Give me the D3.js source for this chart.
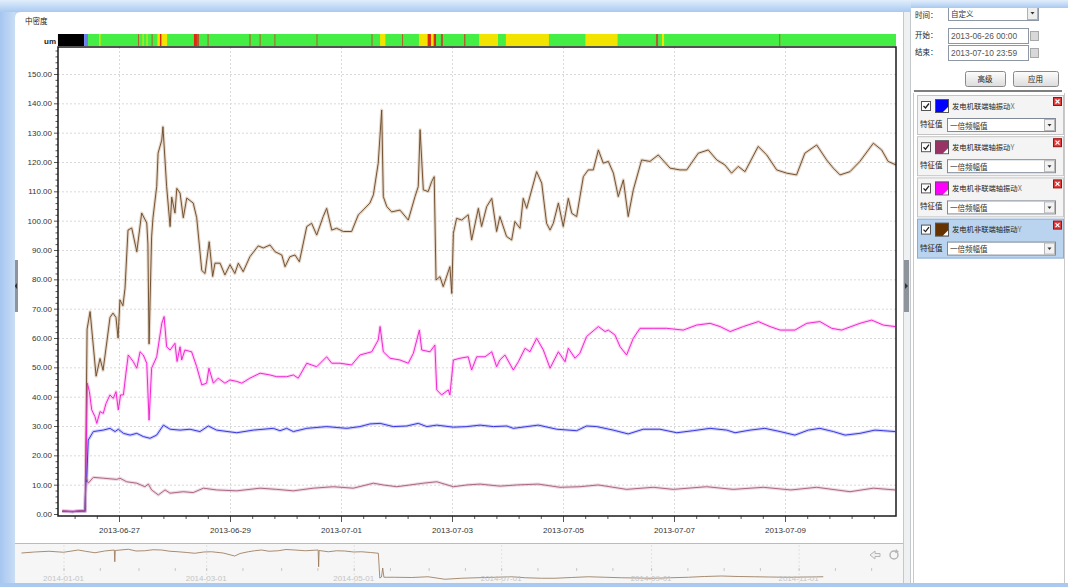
<!DOCTYPE html>
<html><head><meta charset="utf-8">
<script src="https://cdn.jsdelivr.net/npm/d3@7"></script>
<style>body{margin:0;overflow:hidden;background:#fff}svg{display:block}</style>
</head><body><svg id="c" width="1068" height="587"></svg>
<script>
// ---------------- DATA ----------------
// hours from 2013-06-26 00:00, value (um)
const seriesNames = ["发电机联端轴振动X","发电机联端轴振动Y","发电机非联端轴振动X","发电机非联端轴振动Y"];
const featureLabel = "一倍频幅值";
const xTickLabels = ["2013-06-27","2013-06-29","2013-07-01","2013-07-03","2013-07-05","2013-07-07","2013-07-09"];
const yTickValues = [0,10,20,30,40,50,60,70,80,90,100,110,120,130,140,150];
const overviewTickLabels = ["2014-01-01","2014-03-01","2014-05-01","2014-07-01","2014-09-01","2014-11-01"];

const blueX = [[-0.5,0.9],[4,0.8],[8,1.0],[9.3,0.9],[9.7,12.5],[10.0,11],[10.7,25.2],[12.9,28.1],[17.2,28.6],[20.1,29.2],[22.3,28.1],[23.7,28.9],[25.9,27.5],[28.8,26.9],[31.7,27.5],[34.5,26.4],[37.4,25.8],[40.3,26.9],[43.2,30.3],[46.1,28.9],[50.4,28.6],[54.7,28.9],[59.0,28.1],[62.6,30],[66.2,28.6],[74.9,27.7],[82.1,28.6],[90.7,29.2],[93.6,28.4],[96.5,29.2],[99.4,28.1],[105.2,29.2],[113.8,29.8],[122.5,29.2],[128.2,29.8],[132.5,30.7],[136.9,30.9],[142.6,29.8],[148.4,30],[153.4,30.9],[157.1,29.8],[161.4,30.3],[168.6,29.6],[174.4,29.8],[180.1,30.3],[185.9,29.8],[191.7,30],[194.5,29.2],[205.3,30.3],[213.3,28.9],[221.9,28.4],[226.2,30],[230.6,29.8],[237.7,28.6],[244.2,27.3],[250.7,28.9],[257.9,28.9],[265.2,27.7],[272.3,28.4],[279.6,29.2],[286.8,28.6],[290.4,27.7],[296.9,28.6],[303.3,29.2],[309.9,28.1],[316.3,26.9],[322.1,28.6],[327.1,29.2],[332.9,28.1],[338.0,26.9],[344.4,27.5],[350.9,28.6],[354.5,28.4],[359.6,28.1]];

const mauveY = [[-0.5,1.0],[4,0.8],[8,1.1],[9.3,0.9],[9.7,12.7],[10.7,10.5],[12.9,12.5],[17.2,12.2],[23.0,11.8],[24.4,12.2],[27.3,11],[31.7,10.5],[35.2,9.3],[36.7,10.2],[38.1,8.2],[41.0,6.5],[43.9,8.2],[46.1,7.1],[51.8,7.6],[56.1,7.3],[60.5,8.8],[66.2,8.2],[74.9,7.9],[85.0,8.8],[92.2,8.4],[99.4,7.9],[108.0,8.8],[116.7,9.3],[125.3,8.8],[134.0,10.5],[138.3,9.9],[144.1,9.3],[149.8,9.9],[155.6,10.5],[161.4,11],[168.6,9.3],[174.4,9.9],[180.1,10.2],[188.7,9.5],[196.0,9.9],[205.3,10.2],[214.7,9.1],[223.3,9.3],[231.3,9.9],[243.5,8.4],[255.0,9.1],[263.7,8.4],[278.1,9.3],[289.6,8.4],[302.6,9.1],[314.6,8.2],[325.7,9.1],[340.1,7.6],[350.2,8.8],[359.6,8.2]];

const magentaX = [[-0.5,1.0],[4,0.9],[8,1.1],[9.4,1.0],[10.3,44.6],[11.2,41.7],[12.2,35.5],[13.6,33.2],[14.4,30.9],[15.8,34.9],[17.2,34.3],[18.4,37.7],[20.1,40.6],[21.5,39.4],[22.7,41.7],[23.7,35.5],[24.7,40.6],[25.9,40.6],[27.0,48],[28.0,54.2],[30.2,51.9],[31.7,49.7],[33.1,55.3],[34.5,54.2],[36.0,51.4],[37.0,32],[38.1,49.7],[40.3,53.6],[42.5,65],[43.5,67.3],[44.6,57],[46.1,55.9],[48.2,58.2],[49.1,52],[50.4,57],[51.1,52.5],[52.5,55.9],[55.4,55.3],[57.6,50.2],[59.8,44],[61.9,44.6],[62.9,49.7],[64.8,44.6],[66.9,46.3],[69.8,44.6],[72.0,45.7],[74.9,45.2],[77.1,44.6],[80.6,46.3],[85.0,48],[89.3,47.4],[92.2,46.8],[96.5,46.8],[99.4,47.4],[101.5,46.3],[105.2,51.4],[109.5,50.2],[113.8,53.6],[116.0,51.4],[119.6,51.4],[124.6,50.8],[128.2,54.2],[133.3,55.3],[136.1,59.3],[136.9,63.9],[138.3,55.3],[141.2,53.1],[145.5,52.5],[149.1,51.4],[151.3,54.8],[153.9,62.7],[154.9,55.9],[158.5,55.3],[160.6,57.6],[161.4,42.3],[163.5,40.6],[166.4,42.3],[167.1,40.6],[168.6,52.5],[171.5,53.1],[175.0,53.6],[176.5,49.1],[178.7,53.6],[182.3,53.6],[185.2,55.3],[187.3,50.2],[188.7,52.5],[190.9,54.2],[194.5,49.1],[196.7,51.9],[199.6,56.5],[201.7,55.3],[204.6,59.9],[207.5,55.9],[210.4,49.7],[214.0,55.3],[216.9,51.9],[218.3,56.5],[221.2,53.1],[223.3,54.8],[226.2,60.5],[231.3,63.9],[234.2,62.2],[235.6,62.7],[238.5,61],[240.7,57],[243.5,54.2],[246.4,59.9],[249.3,63.3],[255.0,63.3],[260.8,63.3],[268.0,62.7],[273.8,64.4],[279.6,65],[283.9,63.9],[288.3,62.2],[294.0,63.9],[300.5,65.6],[305.5,63.9],[309.9,62.7],[316.3,62.7],[321.4,65],[327.1,65.6],[332.2,63.3],[336.5,62.7],[344.4,65],[349.5,66.1],[354.5,64.4],[359.6,63.9]];

const brownY = [[-0.5,1.0],[4,0.8],[8,1.1],[9.4,1.0],[10.2,63],[11.5,69],[14.1,47],[15.8,53],[17.1,49],[18.8,59],[20.1,67],[21.4,68.5],[22.7,67],[23.6,60],[24.4,73],[25.7,71],[26.6,77],[27.9,96.8],[29.5,97.5],[31.7,89.4],[33.8,102.6],[36.0,99.2],[36.5,92],[37.0,58],[38.1,94.5],[38.7,101],[40.3,111.6],[40.9,123],[42.5,127.5],[43.0,132],[44.6,111.6],[46.1,98],[46.8,108],[48.2,102.6],[49.0,111],[50.4,109.4],[51.8,101],[53.3,107.7],[56.1,106],[57.6,101],[59.8,83],[61.2,82],[63.0,92.8],[64.5,81],[65.5,85.5],[67.7,85.5],[69.8,81.5],[72.0,85],[74.1,82],[75.6,85.5],[77.7,82.6],[80.6,87.7],[84.2,91.4],[86.4,90.7],[89.3,91.7],[91.5,89.4],[94.4,88.3],[95.8,84.3],[97.9,87.7],[100.1,88.3],[102.0,86],[105.2,98],[107.3,99.1],[109.5,95.1],[112.3,101.4],[113.8,104.2],[116.0,96.8],[118.1,97.4],[121.0,96.3],[124.6,96.3],[127.5,102],[128.2,102.5],[132.5,106],[134.0,108.8],[136.1,119.6],[137.6,137.7],[138.3,108.2],[139.8,104.8],[141.9,103],[145.5,103.6],[149.1,100.2],[152.0,108.2],[153.4,111.6],[154.2,131],[155.6,110.5],[157.7,109.9],[159.2,113.3],[160.3,115],[161.1,79.8],[162.8,80.9],[164.2,77.5],[167.1,84.3],[167.9,75.2],[168.6,95.7],[170.0,100.8],[172.2,100.2],[175.0,102],[176.5,93.4],[179.4,104.2],[180.8,98],[183.0,104.8],[185.2,107.6],[187.3,96.3],[188.7,101.4],[191.6,94.6],[193.8,93.4],[195.2,99.7],[197.4,97.4],[198.8,107.6],[200.3,104.2],[204.6,116.7],[206.8,112.8],[208.9,99.1],[210.4,96.8],[211.8,99.1],[214.0,106],[216.1,98],[218.3,107.6],[219.8,102.5],[221.9,101.4],[224.8,115],[226.9,117.3],[229.1,117.3],[231.3,124.1],[233.4,119.6],[235.6,120.2],[237.8,116.2],[239.9,108.2],[242.1,113.9],[244.2,101.4],[246.4,110.5],[250.0,120.7],[253.6,120.2],[257.2,122.4],[262.3,117.9],[266.6,117.3],[269.5,117.3],[274.5,123],[278.8,124.1],[282.5,120.7],[286.0,119],[288.9,116.2],[291.8,118.5],[294.7,116.7],[300.4,125.3],[304.1,122.4],[308.4,117.3],[312.7,116.2],[317.0,115.6],[320.6,123],[325.7,125.8],[330.0,120.7],[332.9,117.9],[335.8,115.6],[340.1,116.7],[344.4,120.2],[350.2,126.4],[353.8,124.1],[356.6,120.2],[360,119]];

// status strip: [startHour, endHour, level]
const statusSegments = [[-2.4,8.9,"offline"],[8.9,10.6,"start"],[10.6,360,"normal"],
 [15.4,16.0,"warn"],[32.2,32.6,"minor"],[34.2,34.6,"warn"],[35.9,36.3,"warn"],[38.1,38.5,"minor"],
 [40.6,41.7,"warn"],[41.7,42.4,"alarm"],[42.4,44.8,"warn"],[56.4,57.7,"alarm"],[57.7,58.6,"minor"],
 [62.3,62.7,"minor"],[80.4,80.9,"minor"],[84.8,85.2,"minor"],[91.2,91.6,"minor"],[109.4,109.8,"minor"],
 [133.2,133.6,"minor"],[136.9,139.2,"warn"],[146.4,146.8,"minor"],[153.7,157.2,"warn"],[157.6,158.9,"alarm"],
 [158.9,159.8,"warn"],[160.2,161.1,"alarm"],[163.2,164.1,"minor"],[173.2,173.8,"minor"],[179.7,187.9,"warn"],
 [191.3,209.9,"warn"],[225.7,239.6,"warn"],[256.2,257.1,"minor"],[258.8,259.7,"warn"],[309.5,309.9,"minor"]];

// overview: days from 2014-01-01, value
const overviewSeries = [[-17.4,120],[-12,124],[-6,127],[0,123],[6.1,132],[9,127],[13,121],[17,128],[21,132],[21.2,85],[21.4,130],[26.8,135],[30,128],[33.6,129],[37,133],[40.5,132],[44,127],[47.4,125],[51,122],[54.3,119],[58,124],[61.2,125],[66,120],[70.8,108],[73,118],[76.4,125],[79,129],[81.9,132],[85,127],[88.8,129],[92,134],[95.7,132],[100,129],[105.3,132],[105.5,65],[105.7,130],[109.5,125],[113,129],[116.3,128],[120,124],[123.2,125],[127,122],[130.2,119],[130.8,20],[131.5,24],[132,60],[132.5,23],[137,23],[144,22],[150.8,25],[157.7,15],[164.6,19],[171,21],[178.4,23],[185.3,25],[191,21],[197.7,19],[203.2,19],[210,22],[217,25],[224,23],[230.8,21],[237,20],[244.6,19],[251,21],[258.4,23],[265,26],[272.1,28],[279,26],[285.9,25],[292,24],[299.7,23],[307,24],[314.2,25]];

// ---------------- STYLES ----------------
const lineColors = ["#3030e0","#a8627f","#f020d0","#6e4c2c"];
const bandColors = ["#9a9af5","#dcb0c0","#ff9cec","#c8ab8c"];
const swatchColors = ["#0000ff","#993366","#ff00ff","#663300"];
const statusColors = {offline:"#000000",start:"#6a80ee",normal:"#44ee44",warn:"#f2e400",alarm:"#e02a10",minor:"#b0602e"};
const FONT = "'Liberation Sans', Arial, sans-serif";
const CJK = "'Noto Sans CJK SC', sans-serif";

// ---------------- DRAW ----------------
const svg = d3.select("#c");
const base = Date.UTC(2013,5,26);
const hr = h => new Date(base + h*3600e3);
const x = d3.scaleUtc().domain([hr(-2.38), hr(360)]).range([58,896]);
const y = d3.scaleLinear().domain([-0.68,159.2]).range([516,47]);
const PL=58, PR=896, PT=47, PB=516;

const defs = svg.append("defs");
const g1 = defs.append("linearGradient").attr("id","frameV").attr("x1",0).attr("x2",0).attr("y1",0).attr("y2",1);
g1.append("stop").attr("offset","0").attr("stop-color","#e2eefc");
g1.append("stop").attr("offset","1").attr("stop-color","#a9c9f1");
const g2 = defs.append("linearGradient").attr("id","frameH").attr("x1",0).attr("x2",1).attr("y1",0).attr("y2",0);
g2.append("stop").attr("offset","0").attr("stop-color","#a6c6ef");
g2.append("stop").attr("offset","1").attr("stop-color","#c9ddf6");
const gb = defs.append("linearGradient").attr("id","btn").attr("x1",0).attr("x2",0).attr("y1",0).attr("y2",1);
gb.append("stop").attr("offset","0").attr("stop-color","#fdfdfd");
gb.append("stop").attr("offset","1").attr("stop-color","#dcdcdc");
defs.append("clipPath").attr("id","plotClip").append("rect").attr("x",PL).attr("y",PT).attr("width",PR-PL).attr("height",PB-PT);

svg.append("rect").attr("width",1068).attr("height",587).attr("fill","#fff");

// chart panel
svg.append("rect").attr("x",15).attr("y",12).attr("width",888).attr("height",531).attr("fill","#fff");
svg.append("text").attr("x",25).attr("y",24).attr("font-family",CJK).attr("font-size",7.5).attr("fill","#222").text("中密度");
svg.append("text").attr("x",56).attr("y",44).attr("text-anchor","end").attr("font-family",FONT).attr("font-size",8).attr("font-weight","bold").attr("fill","#222").text("um");

// status strip
svg.append("g").selectAll("rect").data(statusSegments).join("rect")
  .attr("x",d=>x(hr(d[0]))).attr("width",d=>Math.max(1,x(hr(d[1]))-x(hr(d[0]))))
  .attr("y",34).attr("height",12).attr("fill",d=>statusColors[d[2]]);

// grid
const gridG = svg.append("g");
gridG.selectAll("line.h").data(yTickValues.filter(v=>v>0)).join("line")
  .attr("x1",PL).attr("x2",PR).attr("y1",d=>y(d)+0.5).attr("y2",d=>y(d)+0.5)
  .attr("stroke","#d9d9d9").attr("stroke-dasharray","2,2");
const xMajor = xTickLabels.map(s=>new Date(s+"T00:00:00Z"));
gridG.selectAll("line.v").data(xMajor).join("line")
  .attr("x1",d=>x(d)+0.5).attr("x2",d=>x(d)+0.5).attr("y1",PT).attr("y2",PB)
  .attr("stroke","#d9d9d9").attr("stroke-dasharray","2,2");

// series
const line = d3.line().x(d=>x(hr(d[0]))).y(d=>y(d[1]));
const all = [blueX, mauveY, magentaX, brownY];
const order = [3,2,0,1];
const plotG = svg.append("g").attr("clip-path","url(#plotClip)");
order.forEach(i=>{
  plotG.append("path").attr("d",line(all[i])).attr("fill","none").attr("stroke",bandColors[i])
    .attr("stroke-width",3.2).attr("stroke-opacity",0.45).attr("stroke-linejoin","round");
});
order.forEach(i=>{
  plotG.append("path").attr("d",line(all[i])).attr("fill","none").attr("stroke",lineColors[i])
    .attr("stroke-width",0.95).attr("stroke-linejoin","round");
});

// axes
const yAxis = d3.axisLeft(y).tickValues(yTickValues).tickFormat(d3.format(".2f")).tickSize(4).tickPadding(2);
const yg = svg.append("g").attr("transform",`translate(${PL},0)`).call(yAxis);
const yMinor = d3.range(2,159,2).filter(v=>v%10!==0);
svg.append("g").attr("transform",`translate(${PL},0)`).call(d3.axisLeft(y).tickValues(yMinor).tickFormat("").tickSize(2.5))
  .call(g=>g.select(".domain").remove());
const xAxis = d3.axisBottom(x).tickValues(xMajor).tickFormat(d3.utcFormat("%Y-%m-%d")).tickSize(6).tickPadding(5);
const xg = svg.append("g").attr("transform",`translate(0,${PB})`).call(xAxis);
const xMinorVals = d3.range(4.8,360,9.6).map(hr).filter(d=>!xMajor.some(m=>Math.abs(m-d)<3600e3));
svg.append("g").attr("transform",`translate(0,${PB})`).call(d3.axisBottom(x).tickValues(xMinorVals).tickFormat("").tickSize(3))
  .call(g=>g.select(".domain").remove());
svg.selectAll(".tick line").attr("stroke","#555");
[yg,xg].forEach(g=>{g.select(".domain").remove();
  g.selectAll("text").attr("font-family",FONT).attr("font-size",8).attr("fill","#333");});
svg.append("rect").attr("x",PL).attr("y",PT).attr("width",PR-PL).attr("height",PB-PT)
  .attr("fill","none").attr("stroke","#1a1a1a").attr("stroke-width",1.5);

// overview
svg.append("line").attr("x1",15).attr("x2",903).attr("y1",543.5).attr("y2",543.5).attr("stroke","#b8bcc2");
svg.append("rect").attr("x",15).attr("y",544).attr("width",888).attr("height",39).attr("fill","#f6f6f6");
const ob = Date.UTC(2014,0,1);
const dd = d => new Date(ob + d*864e5);
const xo = d3.scaleUtc().domain([new Date(Date.UTC(2013,11,14)), new Date(Date.UTC(2014,11,15))]).range([20,905]);
const yo = d3.scaleLinear().domain([0,140]).range([583,548]);
const oTicks = overviewTickLabels.map(s=>new Date(s+"T00:00:00Z"));
svg.append("g").selectAll("line").data(oTicks).join("line")
  .attr("x1",d=>xo(d)+0.5).attr("x2",d=>xo(d)+0.5).attr("y1",545).attr("y2",583)
  .attr("stroke","#e2e2e2").attr("stroke-dasharray","2,2");
const oMinor = d3.utcDay.range(new Date(Date.UTC(2014,0,1)), new Date(Date.UTC(2014,11,15))).filter(d=>d.getUTCDate()===1||d.getUTCDate()===16);
svg.append("g").selectAll("line").data(oMinor).join("line")
  .attr("x1",d=>xo(d)+0.5).attr("x2",d=>xo(d)+0.5).attr("y1",568).attr("y2",571).attr("stroke","#c8c8c8");
svg.append("path").attr("d",d3.line().x(d=>xo(dd(d[0]))).y(d=>yo(d[1]))(overviewSeries))
  .attr("fill","none").attr("stroke","#9a7a5a").attr("stroke-width",1).attr("stroke-opacity",0.85);
svg.append("g").selectAll("text").data(oTicks).join("text")
  .attr("x",d=>xo(d)).attr("y",581).attr("text-anchor","middle").attr("font-family",FONT).attr("font-size",8)
  .attr("fill","#c4c4c4").text((d,i)=>overviewTickLabels[i]);
// overview nav icons
svg.append("path").attr("d","M870,555 l5,-4 v2.5 h5 v3 h-5 v2.5 z").attr("fill","#f0f0f0").attr("stroke","#b5b5b5");
svg.append("circle").attr("cx",894).attr("cy",555).attr("r",4).attr("fill","none").attr("stroke","#b5b5b5").attr("stroke-width",1.5);
svg.append("path").attr("d","M896,549 l3,3 l-4,1 z").attr("fill","#b5b5b5");

// splitters
svg.append("rect").attr("x",903).attr("y",12).attr("width",7).attr("height",571).attr("fill","#eef0f2");
svg.append("line").attr("x1",903.5).attr("x2",903.5).attr("y1",12).attr("y2",583).attr("stroke","#c4c8cc");
svg.append("line").attr("x1",910.5).attr("x2",910.5).attr("y1",12).attr("y2",583).attr("stroke","#c4c8cc");
svg.append("rect").attr("x",904).attr("y",260).attr("width",5).attr("height",52).attr("fill","#8d949c");
svg.append("path").attr("d","M905,283 l3,3 l-3,3 z").attr("fill","#333");
svg.append("rect").attr("x",14).attr("y",260).attr("width",4).attr("height",52).attr("fill","#8d949c");
svg.append("path").attr("d","M17,283 l-2.5,3 l2.5,3 z").attr("fill","#333");

// right panel
const RP = svg.append("g");
RP.append("rect").attr("x",911).attr("y",0).attr("width",157).attr("height",587).attr("fill","#fff");
const lbl = (t,xx,yy,sz,fill)=>RP.append("text").attr("x",xx).attr("y",yy).attr("font-family",CJK).attr("font-size",sz||7.5).attr("fill",fill||"#222").text(t);
lbl("时间：",915,18);
RP.append("rect").attr("x",948.5).attr("y",5.5).attr("width",90).attr("height",15).attr("fill","#fff").attr("stroke","#8e98a4");
lbl("自定义",951,17,7.5,"#333");
RP.append("rect").attr("x",1027.5).attr("y",6.5).attr("width",10).attr("height",13).attr("fill","#eee").attr("stroke","#b0b0b0");
RP.append("path").attr("d","M1030.5,12 h4 l-2,2.5 z").attr("fill","#333");
const inputRow = (label,val,yy)=>{
  lbl(label,915,yy+10);
  RP.append("rect").attr("x",948.5).attr("y",yy+0.5).attr("width",80).attr("height",15).attr("fill","#fff").attr("stroke","#8e98a4");
  RP.append("text").attr("x",951).attr("y",yy+11).attr("font-family",FONT).attr("font-size",8.4).attr("fill","#555").text(val);
  RP.append("rect").attr("x",1030.5).attr("y",yy+3.5).attr("width",8).attr("height",9).attr("fill","#d8d8d8").attr("stroke","#a8a8a8");
};
inputRow("开始：","2013-06-26 00:00",28);
inputRow("结束：","2013-07-10 23:59",45);
[["高级",965,40],["应用",1013,45]].forEach(b=>{
  RP.append("rect").attr("x",b[1]+0.5).attr("y",71.5).attr("width",b[2]).attr("height",15).attr("rx",2)
    .attr("fill","url(#btn)").attr("stroke","#8a8a8a");
  RP.append("text").attr("x",b[1]+b[2]/2).attr("y",82).attr("text-anchor","middle").attr("font-family",CJK).attr("font-size",7.5).attr("fill","#222").text(b[0]);
});
RP.append("line").attr("x1",914).attr("x2",1062).attr("y1",91).attr("y2",91).attr("stroke","#555").attr("stroke-width",1.5);
RP.append("line").attr("x1",913.5).attr("x2",913.5).attr("y1",93).attr("y2",583).attr("stroke","#c8c8c8");
RP.append("line").attr("x1",1064.5).attr("x2",1064.5).attr("y1",93).attr("y2",583).attr("stroke","#c8c8c8");

seriesNames.forEach((name,i)=>{
  const cy = 95 + i*41.2, cx = 917;
  const sel = i===3;
  const c = RP.append("g").attr("transform",`translate(${cx},${cy})`);
  c.append("rect").attr("x",0.5).attr("y",0.5).attr("width",146).attr("height",39)
    .attr("fill",sel?"#bad4ef":"#f4f4f4").attr("stroke",sel?"#86abd6":"#c4c4c4");
  c.append("rect").attr("x",4.5).attr("y",6.5).attr("width",9).attr("height",9).attr("fill","#fff").attr("stroke","#555");
  c.append("path").attr("d","M6.5,11 l2,2 l3.5,-4.5").attr("fill","none").attr("stroke","#222").attr("stroke-width",1.3);
  c.append("rect").attr("x",18.5).attr("y",4.5).attr("width",13).attr("height",13).attr("fill",swatchColors[i]).attr("stroke","#555");
  c.append("path").attr("d","M26,17 l5,-5 v5 z").attr("fill","#fff");
  c.append("text").attr("x",35).attr("y",13.5).attr("font-family",CJK).attr("font-size",7.3).attr("fill","#222")
    .text(name.slice(0,-1)).append("tspan").attr("fill","#777").text(name.slice(-1));
  c.append("rect").attr("x",136.5).attr("y",2.5).attr("width",8).attr("height",8).attr("fill","#e03c3c").attr("stroke","#a01010");
  c.append("path").attr("d","M138.5,4.5 l4,4 M142.5,4.5 l-4,4").attr("stroke","#fff").attr("stroke-width",1.2);
  c.append("text").attr("x",3).attr("y",32).attr("font-family",CJK).attr("font-size",7.5).attr("fill","#222").text("特征值");
  c.append("rect").attr("x",30.5).attr("y",23.5).attr("width",108).attr("height",13).attr("fill","#fff").attr("stroke","#7f8a96");
  c.append("text").attr("x",33).attr("y",33.5).attr("font-family",CJK).attr("font-size",7.5).attr("fill","#333").text(featureLabel);
  c.append("rect").attr("x",127.5).attr("y",24.5).attr("width",10).attr("height",11).attr("fill","#f2f2f2").attr("stroke","#b8b8b8");
  c.append("path").attr("d","M130.5,29 h4 l-2,2.5 z").attr("fill","#333");
});

// outer frame
svg.append("rect").attr("x",0).attr("y",0).attr("width",15).attr("height",587).attr("fill","url(#frameH)");
svg.append("rect").attr("x",0).attr("y",0).attr("width",911).attr("height",12).attr("fill","url(#frameV)");
svg.append("rect").attr("x",911).attr("y",0).attr("width",157).attr("height",8).attr("fill","url(#frameV)");
svg.append("rect").attr("x",0).attr("y",583).attr("width",1068).attr("height",4).attr("fill","#a9c9f1");
svg.append("path").attr("d","M15,18 Q15,12 21,12 L15,12 Z").attr("fill","#c2d8f4");
</script></body></html>
